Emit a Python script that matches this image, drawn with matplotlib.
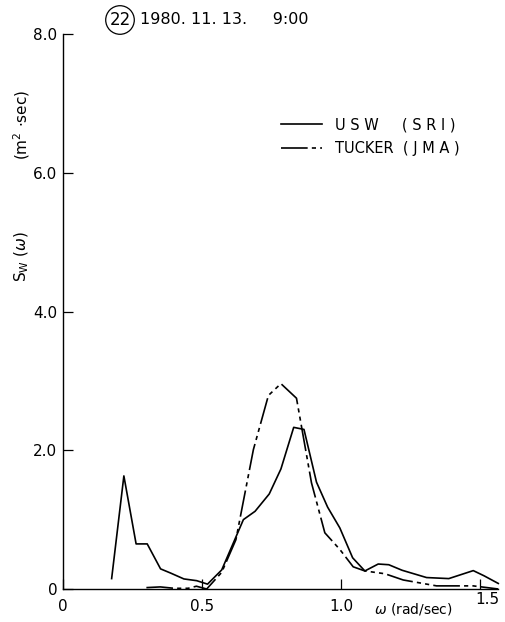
import matplotlib.pyplot as plt
from matplotlib.lines import Line2D

# USW (SRI) spectrum
usw_w = [0.175, 0.219, 0.263, 0.303, 0.351, 0.387, 0.435, 0.481, 0.52, 0.571,
         0.649, 0.691, 0.742, 0.784, 0.83, 0.867, 0.912, 0.952, 0.996, 1.042,
         1.086, 1.134, 1.172, 1.22, 1.308, 1.388, 1.476, 1.515, 1.566]
usw_s = [0.15, 1.63, 0.65, 0.65, 0.29, 0.23, 0.145, 0.12, 0.07, 0.275,
         1.0, 1.12, 1.37, 1.73, 2.33, 2.30, 1.54, 1.18, 0.88, 0.45,
         0.26, 0.36, 0.35, 0.27, 0.165, 0.15, 0.265, 0.19, 0.08]

# TUCKER (JMA) spectrum
tucker_w = [0.30, 0.35, 0.40, 0.45, 0.48, 0.517, 0.571, 0.622, 0.685, 0.739,
            0.784, 0.84, 0.894, 0.942, 0.996, 1.044, 1.086, 1.158, 1.224, 1.344,
            1.476, 1.566]
tucker_s = [0.02, 0.03, 0.01, 0.01, 0.04, 0.0, 0.24, 0.71, 2.01, 2.79,
            2.96, 2.75, 1.53, 0.81, 0.57, 0.32, 0.26, 0.22, 0.13, 0.045,
            0.045, 0.0]

y_ticks = [0, 2, 4, 6, 8]
y_labels = ['0', '2.0', '4.0', '6.0', '8.0']
x_ticks = [0, 0.5, 1.0, 1.5]
x_labels = ['0', '0.5', '1.0', '1.5']

W, H = 506, 622
fig = plt.figure(figsize=(W / 100, H / 100), dpi=100)
ax = fig.add_axes([63 / W, 33 / H, 435 / W, 555 / H])

dashdot = (16, 2.5, 2.5, 2.5, 2.5, 2.5)
ax.plot(usw_w, usw_s, color='black', lw=1.2, clip_on=False)
ax.plot(tucker_w, tucker_s, color='black', lw=1.2, dashes=dashdot, clip_on=False)

ax.set_xlim(0, 1.565)
ax.set_ylim(0, 8.0)
ax.spines['top'].set_visible(False)
ax.spines['right'].set_visible(False)
ax.spines['left'].set_linewidth(1.0)
ax.spines['bottom'].set_linewidth(1.0)

ax.set_yticks(y_ticks)
ax.set_yticklabels(y_labels, fontsize=11)
ax.set_xticks(x_ticks)
ax.set_xticklabels([])
ax.tick_params(direction='in', length=7, width=0.9, pad=4)

for xv, lab in zip(x_ticks, x_labels):
    dx = 0.025 if lab == '1.5' else 0
    dy = -0.05 if lab == '1.5' else -0.15
    ax.text(xv + dx, dy, lab, fontsize=11, ha='center', va='top')

ax.text(1.12, -0.17, r'$\omega$ (rad/sec)', fontsize=10, ha='left', va='top')

# y axis labels
fig.text(22 / W, 1 - 257 / H, r'S$_{\mathrm{W}}$ ($\omega$)', rotation=90,
         fontsize=11, ha='center', va='center')
fig.text(22 / W, 1 - 125 / H, r'(m$^{2}$ $\cdot$sec)', rotation=90,
         fontsize=11, ha='center', va='center')

# title
fig.text(120 / W, 1 - 20 / H, '22', fontsize=12, ha='center', va='center',
         bbox=dict(boxstyle='circle,pad=0.22', fc='none', ec='black', lw=0.9))
fig.text(140 / W, 1 - 20 / H, '1980. 11. 13.     9:00', fontsize=11.5,
         ha='left', va='center')

# legend
handles = [Line2D([], [], color='black', lw=1.2),
           Line2D([], [], color='black', lw=1.2, dashes=dashdot)]
fig.legend(handles, ['U S W     ( S R I )', 'TUCKER  ( J M A )'],
           loc='upper left', bbox_to_anchor=(268 / W, 1 - 104 / H),
           frameon=False, fontsize=10.5, handlelength=2.8, handletextpad=0.9,
           labelspacing=0.6)

fig.savefig('out.png', dpi=100)
